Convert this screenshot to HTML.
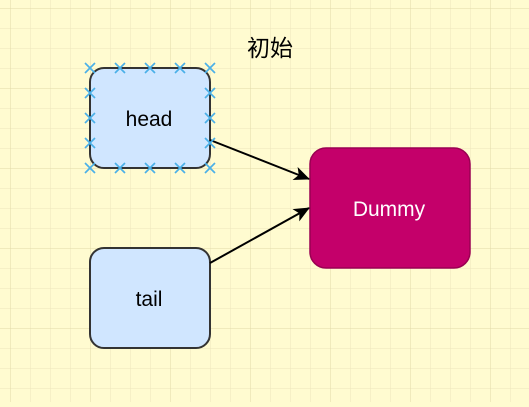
<!DOCTYPE html>
<html><head><meta charset="utf-8"><style>
html,body{margin:0;padding:0;}
body{width:529px;height:402px;overflow:hidden;background:#fffbd0;}
</style></head><body>
<svg width="529" height="402" xmlns="http://www.w3.org/2000/svg">
<defs>
<pattern id="mn" width="20" height="20" patternUnits="userSpaceOnUse" x="10" y="8">
<path d="M0 0H20M0 0V20" stroke="#ece6bc" stroke-width="1" fill="none"/>
</pattern>
<pattern id="mj" width="80" height="80" patternUnits="userSpaceOnUse" x="10" y="8">
<path d="M0 0H80M0 0V80" stroke="#e0d9a8" stroke-width="1" fill="none"/>
</pattern>
<marker id="ar" markerWidth="16" markerHeight="14" refX="15" refY="7" orient="auto" markerUnits="userSpaceOnUse">
<path d="M0 0L16 7L0 14L4 7Z" fill="#000"/>
</marker>
</defs>
<rect width="529" height="402" fill="#fffbd0"/>
<rect width="529" height="402" fill="url(#mn)"/>
<rect width="529" height="402" fill="url(#mj)"/>
<text x="270" y="56" text-anchor="middle" font-family="Liberation Sans, Noto Sans CJK SC, sans-serif" font-size="23">初始</text>
<rect x="90" y="68" width="120" height="100" rx="14" fill="#d0e6ff" stroke="#333" stroke-width="2"/>
<text x="149" y="126" text-anchor="middle" font-family="Liberation Sans, sans-serif" font-size="21">head</text>
<rect x="90" y="248" width="120" height="100" rx="14" fill="#d0e6ff" stroke="#333" stroke-width="2"/>
<text x="149" y="306" text-anchor="middle" font-family="Liberation Sans, sans-serif" font-size="21">tail</text>
<rect x="310" y="148" width="160" height="120" rx="16" fill="#c4006a" stroke="#9a0052" stroke-width="1.5"/>
<text x="389" y="216" text-anchor="middle" font-family="Liberation Sans, sans-serif" font-size="21" fill="#fff">Dummy</text>
<line x1="210" y1="140" x2="309" y2="179" stroke="#000" stroke-width="2" marker-end="url(#ar)"/>
<line x1="210" y1="263" x2="309" y2="208" stroke="#000" stroke-width="2" marker-end="url(#ar)"/>
<g stroke="#4ab0e8" stroke-width="1.7">
<path d="M85 63l10 10M95 63l-10 10 M115 63l10 10M125 63l-10 10 M145 63l10 10M155 63l-10 10 M175 63l10 10M185 63l-10 10 M205 63l10 10M215 63l-10 10
M85 163l10 10M95 163l-10 10 M115 163l10 10M125 163l-10 10 M145 163l10 10M155 163l-10 10 M175 163l10 10M185 163l-10 10 M205 163l10 10M215 163l-10 10
M85 88l10 10M95 88l-10 10 M85 113l10 10M95 113l-10 10 M85 138l10 10M95 138l-10 10
M205 88l10 10M215 88l-10 10 M205 113l10 10M215 113l-10 10 M205 138l10 10M215 138l-10 10"/>
</g>
</svg>
</body></html>
